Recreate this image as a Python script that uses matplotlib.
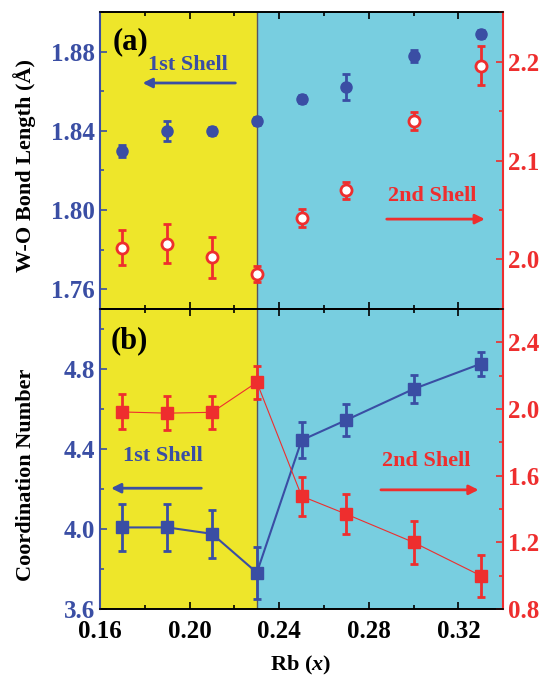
import matplotlib
matplotlib.use('Agg')
import matplotlib.pyplot as plt
from matplotlib.ticker import MultipleLocator

plt.rcParams['font.family'] = ['Liberation Serif', 'DejaVu Serif']
plt.rcParams['font.weight'] = 'bold'
plt.rcParams['mathtext.fontset'] = 'custom'
plt.rcParams['mathtext.it'] = 'Liberation Serif:bold:italic'
plt.rcParams['mathtext.rm'] = 'Liberation Serif:bold'

# data
rb = [0.17, 0.19, 0.21, 0.23, 0.25, 0.27, 0.30, 0.33]

bond1 = [1.830, 1.840, 1.840, 1.845, 1.856, 1.862, 1.878, 1.889]
bond1_err = [0.003, 0.005, 0.002, 0.002, 0.002, 0.0065, 0.003, 0.002]
bond2 = [2.012, 2.016, 2.002, 1.985, 2.042, 2.070, 2.140, 2.196]
bond2_err = [0.018, 0.020, 0.021, 0.008, 0.009, 0.0085, 0.0095, 0.020]

cn1 = [4.008, 4.008, 3.976, 3.782, 4.444, 4.545, 4.700, 4.826]
cn1_err = [0.117, 0.117, 0.12, 0.13, 0.09, 0.08, 0.07, 0.06]
cn2 = [1.982, 1.975, 1.98, 2.16, 1.477, 1.369, 1.200, 1.000]
cn2_err = [0.105, 0.10, 0.10, 0.10, 0.117, 0.12, 0.127, 0.127]

split_x = 0.23
xmin, xmax = 0.16, 0.34

azul = '#3A4EA4'
rojo = '#EE2E2E'
amarillo = '#EEE62A'
cian = '#78CEE0'

fig = plt.figure(figsize=(5.44, 6.76), dpi=100)
ax1 = fig.add_axes([0.184, 0.543, 0.741, 0.439])
ax2 = fig.add_axes([0.184, 0.099, 0.741, 0.444])


def fondo(ax):
    ax.axvspan(xmin, split_x, color=amarillo, lw=0, zorder=0)
    ax.axvspan(split_x, xmax, color=cian, lw=0, zorder=0)
    ax.axvline(split_x, color='#555566', lw=1.0, zorder=1)
    ax.set_xlim(xmin, xmax)
    ax.xaxis.set_major_locator(MultipleLocator(0.04))
    ax.xaxis.set_minor_locator(MultipleLocator(0.02))
    ax.tick_params(axis='x', which='both', direction='in', top=True, bottom=True,
                   colors='black', labelsize=18, width=1.2, pad=8)
    ax.tick_params(axis='x', which='major', length=5)
    ax.tick_params(axis='x', which='minor', length=3)
    ax.tick_params(axis='y', which='both', direction='in', colors=azul,
                   labelsize=18, width=1.2)
    ax.tick_params(axis='y', which='major', length=5)
    ax.tick_params(axis='y', which='minor', length=3)
    for s in ['top', 'bottom']:
        ax.spines[s].set_color('black')
        ax.spines[s].set_linewidth(1.2)
    ax.spines['left'].set_color(azul)
    ax.spines['left'].set_linewidth(1.2)
    ax.spines['right'].set_color(rojo)
    ax.spines['right'].set_linewidth(1.2)


def derecho(tw):
    tw.tick_params(axis='y', which='both', direction='in', colors=rojo,
                   labelsize=18, width=1.2)
    tw.tick_params(axis='y', which='major', length=5)
    tw.tick_params(axis='y', which='minor', length=3)
    tw.spines['right'].set_color(rojo)
    tw.spines['right'].set_linewidth(1.5)
    tw.spines['left'].set_color(azul)
    tw.spines['left'].set_linewidth(1.5)
    for s in ['top', 'bottom']:
        tw.spines[s].set_color('black')
        tw.spines[s].set_linewidth(1.2)


# ---- (a) bond length ----
fondo(ax1)
ax1.set_ylim(1.75, 1.90)
ax1.yaxis.set_major_locator(MultipleLocator(0.04))
ax1.yaxis.set_minor_locator(MultipleLocator(0.02))
ax1.set_yticks([1.76, 1.80, 1.84, 1.88])
ax1.set_yticklabels(['1.76', '1.80', '1.84', '1.88'])
ax1.tick_params(axis='x', labelbottom=False)
ax1.errorbar(rb, bond1, yerr=bond1_err, fmt='o', color=azul, ms=8,
             elinewidth=2, capsize=3, capthick=2, zorder=3)
ax1.set_ylabel('W-O Bond Length (Å)', fontsize=16, fontweight='bold')
ax1.yaxis.set_label_coords(-0.159, 0.485)
ax1.text(0.03, 0.90, '(a)', transform=ax1.transAxes, fontsize=22,
         fontweight='bold', va='center', ha='left', zorder=5)
ax1.text(0.199, 1.8733, '1st Shell', color=azul, fontsize=16,
         fontweight='bold', ha='center', va='center', zorder=5)
ax1.annotate('', xy=(0.1790, 1.8642), xytext=(0.2204, 1.8642),
             arrowprops=dict(arrowstyle='-|>', color=azul, lw=2,
                             mutation_scale=14, shrinkA=0, shrinkB=0), zorder=5)

ax1b = ax1.twinx()
derecho(ax1b)
ax1b.set_ylim(1.95, 2.25)
ax1b.yaxis.set_major_locator(MultipleLocator(0.1))
ax1b.yaxis.set_minor_locator(MultipleLocator(0.05))
ax1b.errorbar(rb, bond2, yerr=bond2_err, fmt='o', color=rojo, mfc='white',
              mec=rojo, mew=2, ms=8, elinewidth=2, capsize=3, capthick=2, zorder=3)
ax1b.text(0.3084, 2.0644, '2nd Shell', color=rojo, fontsize=16,
          fontweight='bold', ha='center', va='center')
ax1b.annotate('', xy=(0.3318, 2.0408), xytext=(0.288, 2.0408),
              arrowprops=dict(arrowstyle='-|>', color=rojo, lw=2,
                              mutation_scale=14, shrinkA=0, shrinkB=0))

# ---- (b) coordination number ----
fondo(ax2)
ax2.set_ylim(3.6, 5.1)
ax2.yaxis.set_major_locator(MultipleLocator(0.4))
ax2.yaxis.set_minor_locator(MultipleLocator(0.2))
ax2.set_yticks([3.6, 4.0, 4.4, 4.8])
ax2.set_yticklabels(['3.6', '4.0', '4.4', '4.8'])
ax2.set_xticks([0.16, 0.20, 0.24, 0.28, 0.32])
ax2.set_xticklabels(['0.16', '0.20', '0.24', '0.28', '0.32'])
ax2.errorbar(rb, cn1, yerr=cn1_err, fmt='s-', color=azul, ms=8, lw=1.5,
             elinewidth=2, capsize=3, capthick=2, zorder=3)
ax2.set_ylabel('Coordination Number', fontsize=16, fontweight='bold')
ax2.yaxis.set_label_coords(-0.159, 0.447)
ax2.set_xlabel(r'Rb ($\mathit{x}$)', fontsize=16, fontweight='bold')
ax2.xaxis.set_label_coords(0.496, -0.15)
ax2.text(0.025, 0.895, '(b)', transform=ax2.transAxes, fontsize=22,
         fontweight='bold', va='center', ha='left', zorder=5)
ax2.text(0.1881, 4.366, '1st Shell', color=azul, fontsize=16,
         fontweight='bold', ha='center', va='center', zorder=5)
ax2.annotate('', xy=(0.1649, 4.204), xytext=(0.2052, 4.204),
             arrowprops=dict(arrowstyle='-|>', color=azul, lw=2,
                             mutation_scale=14, shrinkA=0, shrinkB=0), zorder=5)

ax2b = ax2.twinx()
derecho(ax2b)
ax2b.set_ylim(0.8, 2.6)
ax2b.yaxis.set_major_locator(MultipleLocator(0.4))
ax2b.yaxis.set_minor_locator(MultipleLocator(0.2))
ax2b.errorbar(rb, cn2, yerr=cn2_err, fmt='s-', color=rojo, ms=8, lw=0.8,
              elinewidth=2, capsize=3, capthick=2, zorder=3)
ax2b.text(0.3055, 1.69, '2nd Shell', color=rojo, fontsize=16,
          fontweight='bold', ha='center', va='center')
ax2b.annotate('', xy=(0.329, 1.515), xytext=(0.2854, 1.515),
              arrowprops=dict(arrowstyle='-|>', color=rojo, lw=2,
                              mutation_scale=14, shrinkA=0, shrinkB=0))

fig.savefig('out.png', dpi=100)
